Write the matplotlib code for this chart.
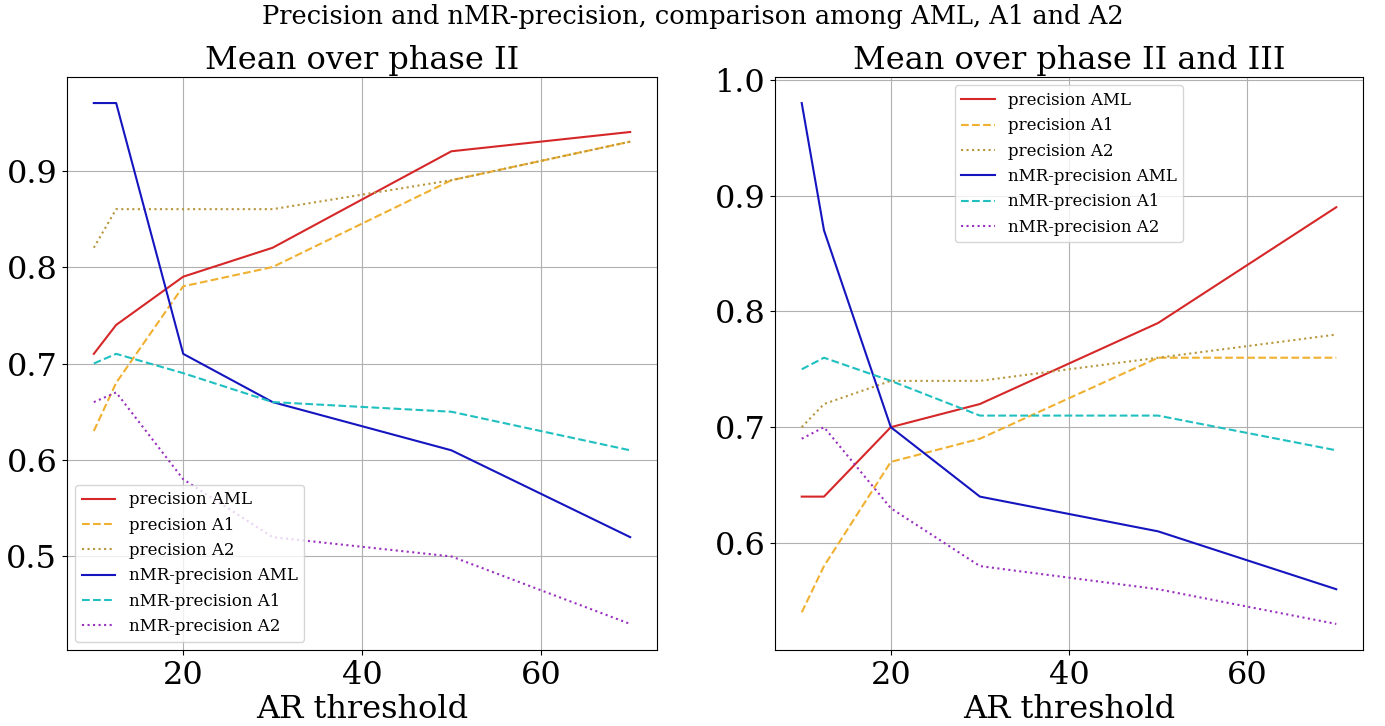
import matplotlib
matplotlib.use("Agg")
from matplotlib import pyplot as plt

plt.rcParams['font.family'] = 'DejaVu Serif'

ar_threshold = [10, 12.5, 20, 30, 50, 70]

# mean over phase II
p2_prec_aml = [0.71, 0.74, 0.79, 0.82, 0.92, 0.94]
p2_prec_a1 = [0.63, 0.68, 0.78, 0.80, 0.89, 0.93]
p2_prec_a2 = [0.82, 0.86, 0.86, 0.86, 0.89, 0.93]
p2_nmr_aml = [0.97, 0.97, 0.71, 0.66, 0.61, 0.52]
p2_nmr_a1 = [0.70, 0.71, 0.69, 0.66, 0.65, 0.61]
p2_nmr_a2 = [0.66, 0.67, 0.58, 0.52, 0.50, 0.43]

# mean over phase II and III
p23_prec_aml = [0.64, 0.64, 0.70, 0.72, 0.79, 0.89]
p23_prec_a1 = [0.54, 0.58, 0.67, 0.69, 0.76, 0.76]
p23_prec_a2 = [0.70, 0.72, 0.74, 0.74, 0.76, 0.78]
p23_nmr_aml = [0.98, 0.87, 0.70, 0.64, 0.61, 0.56]
p23_nmr_a1 = [0.75, 0.76, 0.74, 0.71, 0.71, 0.68]
p23_nmr_a2 = [0.69, 0.70, 0.63, 0.58, 0.56, 0.53]

x_ticks = [20, 40, 60]

labels = ["precision AML", "precision A1", "precision A2",
          "nMR-precision AML", "nMR-precision A1", "nMR-precision A2"]
styles = [('#d62728', '-'), ('#f0b030', '--'), ('#b8963c', ':'),
          ('#1515c0', '-'), ('#20c0c0', '--'), ('#9a30c0', ':')]

fig = plt.figure(figsize=(13.85, 7.26), dpi=100)
ax1 = fig.add_axes([67/1385, 1 - 650/726, 590/1385, 573/726])
ax2 = fig.add_axes([775/1385, 1 - 650/726, 588/1385, 573/726])

panels = [
    (ax1, "Mean over phase II",
     [p2_prec_aml, p2_prec_a1, p2_prec_a2, p2_nmr_aml, p2_nmr_a1, p2_nmr_a2],
     'lower left'),
    (ax2, "Mean over phase II and III",
     [p23_prec_aml, p23_prec_a1, p23_prec_a2, p23_nmr_aml, p23_nmr_a1, p23_nmr_a2],
     'upper center'),
]

for ax, title, series, loc in panels:
    for vals, lab, (col, ls) in zip(series, labels, styles):
        ax.plot(ar_threshold, vals, color=col, linestyle=ls, label=lab, linewidth=1.5)
    ax.set_title(title, fontsize=23)
    ax.set_xlabel("AR threshold", fontsize=23, labelpad=2)
    ax.set_xticks(x_ticks)
    ax.tick_params(labelsize=23)
    ax.grid(True, color='#b0b0b0', linewidth=0.8)
    ax.legend(loc=loc, fontsize=12)

fig.suptitle("Precision and nMR-precision, comparison among AML, A1 and A2",
             fontsize=18.5, y=0.995)

fig.savefig("out.png", dpi=100)
